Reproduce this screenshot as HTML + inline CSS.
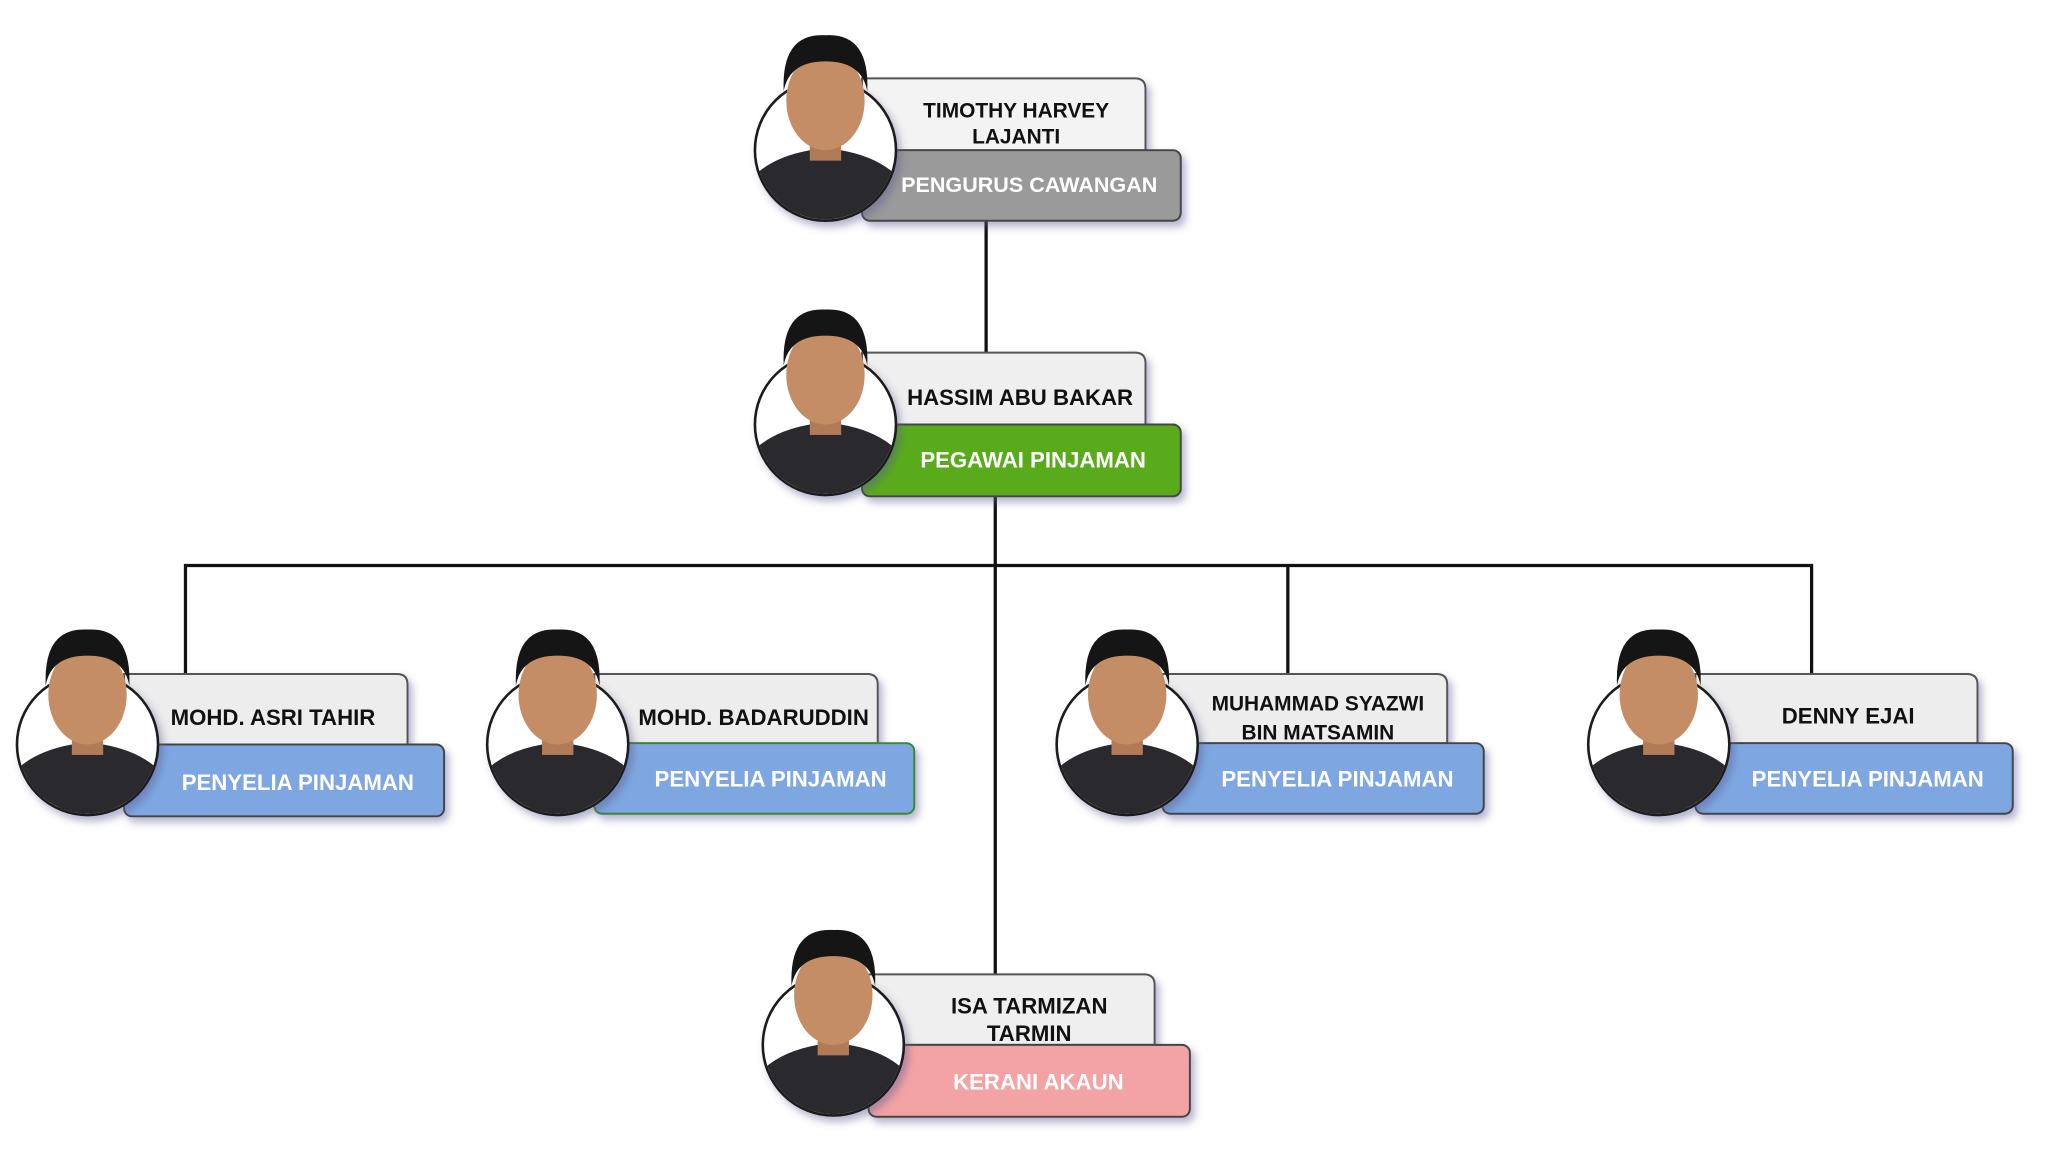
<!DOCTYPE html>
<html><head><meta charset="utf-8"><style>
html,body{margin:0;padding:0;background:#fff;}
svg{display:block;}
text{font-family:"Liberation Sans",Arial,sans-serif;font-weight:bold;}
</style></head><body>
<svg width="2048" height="1152" viewBox="0 0 1568 882" preserveAspectRatio="none" xmlns="http://www.w3.org/2000/svg">
<defs>
<filter id="sh" x="-10%" y="-10%" width="130%" height="140%">
<feDropShadow dx="3" dy="4" stdDeviation="3" flood-color="#5a5a90" flood-opacity="0.45"/>
</filter>
<clipPath id="cc"><circle cx="0" cy="0" r="53"/></clipPath>
<g id="person">
<circle cx="0" cy="0" r="54" fill="#fff" stroke="#1a1a1a" stroke-width="2" filter="url(#sh)"/>
<g clip-path="url(#cc)">
<path d="M-58 60 L-55 20 Q-40 5 -12 0 L12 0 Q40 5 55 20 L58 60 Z" fill="#2a2a2e"/>
<rect x="-12" y="-10" width="24" height="18" fill="#b07b56"/>
</g>
<ellipse cx="0" cy="-38" rx="30" ry="38" fill="#c48d66"/>
<path d="M-32 -45 Q-34 -90 0 -88 Q34 -90 32 -45 Q28 -68 0 -68 Q-28 -68 -32 -45 Z" fill="#151515"/>
</g>
</defs>

<g stroke="#111" stroke-width="2.5" fill="none">
<line x1="755" y1="169" x2="755" y2="272"/>
<line x1="762" y1="380" x2="762" y2="748"/>
<polyline points="142,516 142,433 1387,433 1387,516"/>
<line x1="986" y1="433" x2="986" y2="516"/>
</g>

<g filter="url(#sh)">
<path d="M660 115 V60 H869 Q877 60 877 68 V115 Z" fill="#f3f3f3" stroke="#555" stroke-width="1.5"/>
<rect x="660" y="115" width="244" height="54" rx="6" fill="#9a9a9a" stroke="#444" stroke-width="1.5"/>
</g>
<text x="778" y="90" font-size="16" text-anchor="middle" fill="#111">TIMOTHY HARVEY</text>
<text x="778" y="110" font-size="16" text-anchor="middle" fill="#111">LAJANTI</text>
<text x="788" y="147" font-size="16.5" text-anchor="middle" fill="#fff">PENGURUS CAWANGAN</text>
<use href="#person" transform="translate(632,115)"/>

<g filter="url(#sh)">
<path d="M660 325 V270 H869 Q877 270 877 278 V325 Z" fill="#efefef" stroke="#555" stroke-width="1.5"/>
<rect x="660" y="325" width="244" height="55" rx="6" fill="#5aab1e" stroke="#444" stroke-width="1.5"/>
</g>
<text x="781" y="310" font-size="17" text-anchor="middle" fill="#111">HASSIM ABU BAKAR</text>
<text x="791" y="358" font-size="17" text-anchor="middle" fill="#fff">PEGAWAI PINJAMAN</text>
<use href="#person" transform="translate(632,325)"/>

<g filter="url(#sh)">
<path d="M95 570 V516 H304 Q312 516 312 524 V570 Z" fill="#ededed" stroke="#555" stroke-width="1.5"/>
<rect x="95" y="570" width="245" height="55" rx="6" fill="#7ea7e1" stroke="#444" stroke-width="1.5"/>
</g>
<text x="209" y="555" font-size="17" text-anchor="middle" fill="#111">MOHD. ASRI TAHIR</text>
<text x="228" y="605" font-size="17" text-anchor="middle" fill="#fff">PENYELIA PINJAMAN</text>
<use href="#person" transform="translate(67,570)"/>

<g filter="url(#sh)">
<path d="M455 569 V516 H664 Q672 516 672 524 V569 Z" fill="#ededed" stroke="#555" stroke-width="1.5"/>
<rect x="455" y="569" width="245" height="54" rx="6" fill="#7ea7e1" stroke="#3a8a2a" stroke-width="1.5"/>
</g>
<text x="577" y="555" font-size="17" text-anchor="middle" fill="#111">MOHD. BADARUDDIN</text>
<text x="590" y="602" font-size="17" text-anchor="middle" fill="#fff">PENYELIA PINJAMAN</text>
<use href="#person" transform="translate(427,570)"/>

<g filter="url(#sh)">
<path d="M890 569 V516 H1100 Q1108 516 1108 524 V569 Z" fill="#ededed" stroke="#555" stroke-width="1.5"/>
<rect x="890" y="569" width="246" height="54" rx="6" fill="#7ea7e1" stroke="#444" stroke-width="1.5"/>
</g>
<text x="1009" y="544" font-size="16" text-anchor="middle" fill="#111">MUHAMMAD SYAZWI</text>
<text x="1009" y="566" font-size="16" text-anchor="middle" fill="#111">BIN MATSAMIN</text>
<text x="1024" y="602" font-size="17" text-anchor="middle" fill="#fff">PENYELIA PINJAMAN</text>
<use href="#person" transform="translate(863,570)"/>

<g filter="url(#sh)">
<path d="M1298 569 V516 H1506 Q1514 516 1514 524 V569 Z" fill="#ededed" stroke="#555" stroke-width="1.5"/>
<rect x="1298" y="569" width="243" height="54" rx="6" fill="#7ea7e1" stroke="#444" stroke-width="1.5"/>
</g>
<text x="1415" y="554" font-size="17" text-anchor="middle" fill="#111">DENNY EJAI</text>
<text x="1430" y="602" font-size="17" text-anchor="middle" fill="#fff">PENYELIA PINJAMAN</text>
<use href="#person" transform="translate(1270,570)"/>

<g filter="url(#sh)">
<path d="M665 800 V746 H876 Q884 746 884 754 V800 Z" fill="#efefef" stroke="#555" stroke-width="1.5"/>
<rect x="665" y="800" width="246" height="55" rx="6" fill="#f4a3a4" stroke="#444" stroke-width="1.5"/>
</g>
<text x="788" y="776" font-size="17" text-anchor="middle" fill="#111">ISA TARMIZAN</text>
<text x="788" y="797" font-size="17" text-anchor="middle" fill="#111">TARMIN</text>
<text x="795" y="834" font-size="17" text-anchor="middle" fill="#fff">KERANI AKAUN</text>
<use href="#person" transform="translate(638,800)"/>
</svg>
</body></html>
